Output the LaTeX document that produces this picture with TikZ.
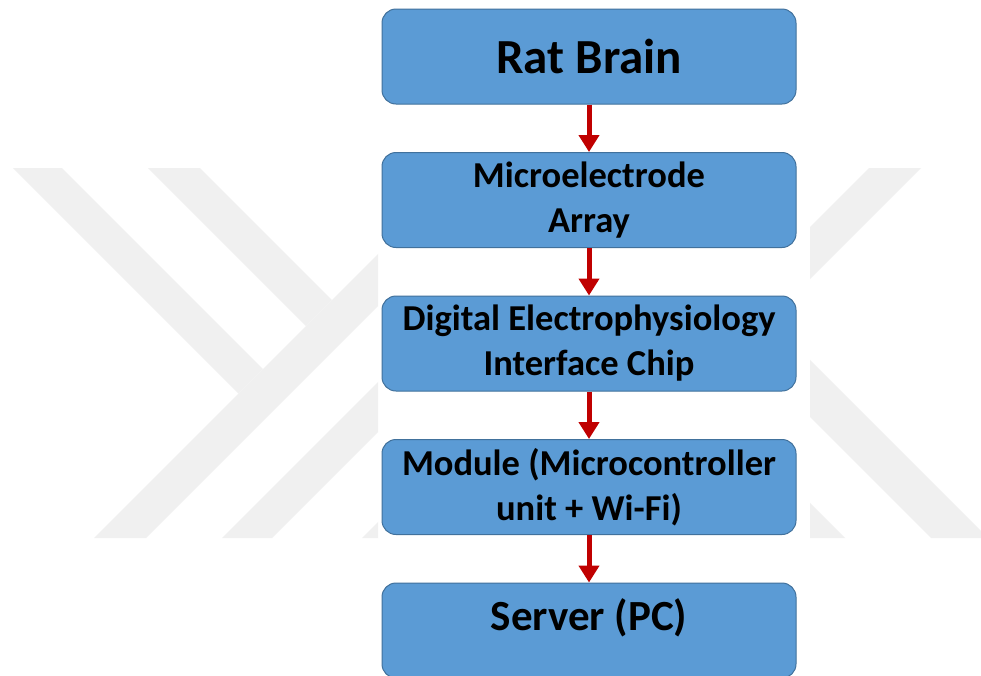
\documentclass[tikz,border=0pt]{standalone}
\usepackage{fontspec}
\setmainfont{Carlito}
\usetikzlibrary{positioning,arrows.meta}
\definecolor{boxblue}{HTML}{5B9BD5}
\definecolor{boxedge}{HTML}{41719C}
\definecolor{arrowred}{HTML}{C00000}
\definecolor{wmgray}{RGB}{240,240,240}

\begin{document}
\begin{tikzpicture}[x=1pt,y=-1pt,
        blk/.style={draw=boxedge, line width=1pt, fill=boxblue, rounded corners=14pt,
            minimum width=414pt, minimum height=95pt, inner sep=2pt, align=center,
            font=\bfseries\fontsize{36.5}{45}\selectfont},
        flow/.style={draw=arrowred, line width=5pt, -{Triangle[width=20pt,length=17pt]}},
        wm/.style={fill=wmgray},
        node distance=47.5pt]
        \fill[white] (0,0) rectangle (981,675);
        \useasboundingbox (0,0) rectangle (981,675);
        % faint watermark, left part
        \begin{scope}
            \clip (0,168) rectangle (378,538);
            \fill[wm] (13,168) -- (62,168) -- (263,369) -- (238.5,393.5) -- cycle;
            \fill[wm] (148,168) -- (200,168) -- (332,300) -- (306,326) -- cycle;
            \fill[wm] (94,538) -- (146,538) -- (516,168) -- (464,168) -- cycle;
            \fill[wm] (222,538) -- (272,538) -- (642,168) -- (592,168) -- cycle;
            \fill[wm] (362,538) -- (412,538) -- (782,168) -- (732,168) -- cycle;
        \end{scope}
        % faint watermark, right part
        \begin{scope}
            \clip (810,168) rectangle (981,538);
            \fill[wm] (869,168) -- (921,168) -- (551,538) -- (499,538) -- cycle;
            \fill[wm] (700,250) -- (988,538) -- (931,538) -- (700,307) -- cycle;
            \fill[wm] (700,393) -- (845,538) -- (788,538) -- (700,450) -- cycle;
        \end{scope}

        \node[blk] (brain) at (589,56.5) {\fontsize{49}{58}\selectfont Rat Brain};
        \node[blk, below=of brain] (mea) {Microelectrode\\Array};
        \node[blk, below=of mea] (chip) {Digital Electrophysiology\\Interface Chip};
        \node[blk, below=of chip] (module) {Module (Microcontroller\\unit + Wi-Fi)};
        \node[blk, below=of module, text height=20pt, text depth=20pt] (server) {\fontsize{43}{52}\selectfont Server (PC)};

        \draw[flow] (brain) -- (mea);
        \draw[flow] (mea) -- (chip);
        \draw[flow] (chip) -- (module);
        \draw[flow] (module) -- (server);
    \end{tikzpicture}
\end{document}
